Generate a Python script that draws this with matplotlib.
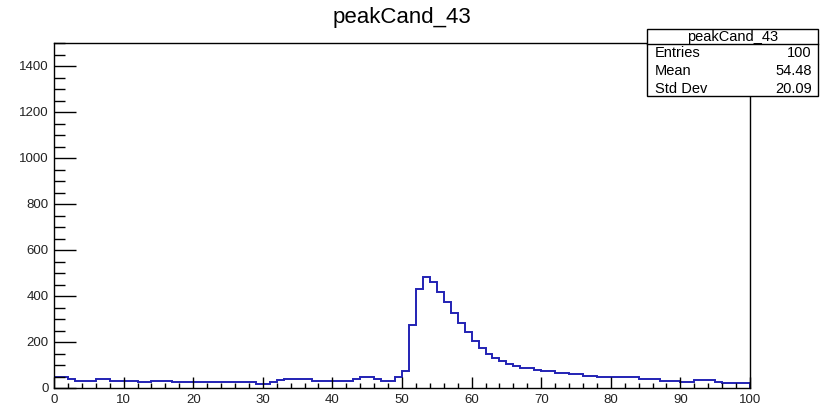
import matplotlib
matplotlib.use("Agg")

import numpy as np
import matplotlib.pyplot as plt
from matplotlib.patches import Rectangle
from matplotlib.lines import Line2D
from matplotlib.ticker import MultipleLocator

# -----------------------------
# Data (100 bins of width 1)
# -----------------------------
bin_edges = np.arange(0, 101)
counts = [
    46, 46, 38, 32, 32, 32, 39, 39, 32, 32,      # 0-9
    32, 32, 25, 25, 32, 32, 32, 25, 25, 25,      # 10-19
    25, 25, 25, 25, 25, 25, 25, 25, 25, 19,      # 20-29
    19, 28, 35, 39, 39, 39, 39, 32, 32, 32,      # 30-39
    32, 32, 32, 38, 46, 46, 38, 32, 32, 47,      # 40-49
    74, 276, 432, 481, 459, 419, 373, 327, 282, 243,  # 50-59
    204, 175, 149, 130, 117, 103, 94, 85, 85, 80,     # 60-69
    76, 72, 67, 67, 61, 61, 54, 54, 46, 46,      # 70-79
    46, 46, 46, 46, 39, 39, 39, 32, 32, 32,      # 80-89
    28, 28, 36, 36, 36, 28, 20, 20, 20, 20,      # 90-99
]

hist_name = "peakCand_43"
stat_labels = ["Entries", "Mean", "Std Dev"]
stat_values = ["100", "54.48", "20.09"]

W, H = 823, 408
FONT = "Liberation Sans"
plt.rcParams["font.family"] = [FONT, "DejaVu Sans"]
PX = 0.72  # points per pixel at dpi=100


def fx(px):
    return px / W


def fy(py):
    return 1 - py / H


# -----------------------------
# Figure / axes
# -----------------------------
fig = plt.figure(figsize=(W / 100, H / 100), dpi=100)
ax = fig.add_axes([fx(54), fy(388), fx(750) - fx(54), fy(43) - fy(388)])

ax.stairs(counts, bin_edges, color="#2222b4", linewidth=1.4)

ax.set_xlim(0, 100)
ax.set_ylim(0, 1500)

ax.xaxis.set_major_locator(MultipleLocator(10))
ax.xaxis.set_minor_locator(MultipleLocator(2))
ax.yaxis.set_major_locator(MultipleLocator(200))
ax.yaxis.set_minor_locator(MultipleLocator(50))

ax.tick_params(axis="both", which="both", direction="in", top=False, right=False,
               width=1.0, color="black", labelsize=9.5, labelcolor="#222222")
ax.tick_params(axis="x", which="major", length=11 * PX, pad=4)
ax.tick_params(axis="x", which="minor", length=5.5 * PX)
ax.tick_params(axis="y", which="major", length=22 * PX, pad=4)
ax.tick_params(axis="y", which="minor", length=11 * PX)

for s in ax.spines.values():
    s.set_linewidth(1.0)

# title
fig.text(fx(402), fy(17), hist_name, ha="center", va="center", fontsize=16)

# -----------------------------
# Stats box (ROOT style)
# -----------------------------
box_l, box_r, box_t, box_b = 647, 818, 29, 96
fig.add_artist(Rectangle((fx(box_l), fy(box_b)), fx(box_r) - fx(box_l), fy(box_t) - fy(box_b),
                         facecolor="white", edgecolor="black", linewidth=1.0,
                         transform=fig.transFigure))
fig.add_artist(Line2D([fx(box_l), fx(box_r)], [fy(44), fy(44)], color="black",
                      linewidth=1.0, transform=fig.transFigure))
fig.text(fx((box_l + box_r) / 2), fy(36.5), hist_name, ha="center", va="center", fontsize=10.5)

row_y = [53, 71, 89]
for lab, val, yy in zip(stat_labels, stat_values, row_y):
    fig.text(fx(655), fy(yy), lab, ha="left", va="center", fontsize=10.5)
    fig.text(fx(812), fy(yy), val, ha="right", va="center", fontsize=10.5)

fig.savefig("out.png", dpi=100)
plt.close(fig)
